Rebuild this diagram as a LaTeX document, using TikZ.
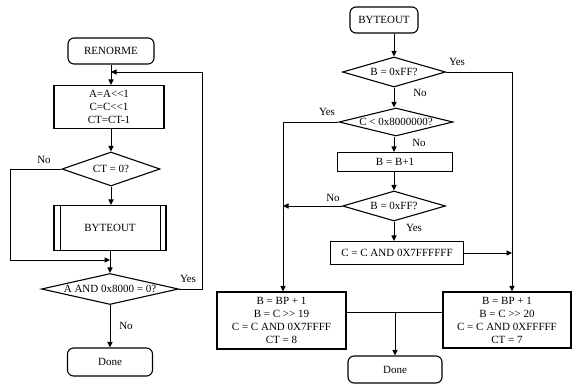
\documentclass[tikz,border=0pt]{standalone}
\usepackage{fontspec}
\setmainfont{Liberation Serif}
\usetikzlibrary{arrows.meta,shapes.geometric}
\newcommand\dtxt[1]{\makebox[0pt]{#1}}
\begin{document}
\begin{tikzpicture}[x=1pt,y=-1pt,
  every node/.style={font=\fontsize{11}{13}\selectfont},
  base/.style={draw, line width=1.1pt, inner sep=0pt, align=center},
  proc/.style={base, rectangle},
  term/.style={base, rectangle, rounded corners=6pt},
  dec/.style={base, diamond},
  arr/.style={line width=1pt, -{Triangle[length=5.5pt,width=5pt]}},
  ln/.style={line width=1pt},
  lbl/.style={inner sep=0pt}]
\useasboundingbox (0,0) rectangle (572,386);
% ---------- left chart ----------
\node[term, minimum width=86pt, minimum height=26pt] (ren) at (111,51) {RENORME};
\node[proc, minimum width=110pt, minimum height=43pt] (b1) at (109,107) {A=A<\kern0pt<1\\C=C<\kern0pt<1\\CT=CT-1};
\node[dec, minimum width=98pt, minimum height=34pt, shape aspect=2.9] (d1) at (111,169) {\dtxt{CT = 0?}};
\node[proc, minimum width=112pt, minimum height=45pt] (bo1) at (110,228) {BYTEOUT};
\draw[line width=1.1pt] ([xshift=7pt]bo1.north west) -- ([xshift=7pt]bo1.south west)
                     ([xshift=-6pt]bo1.north east) -- ([xshift=-6pt]bo1.south east);
\node[dec, minimum width=137pt, minimum height=31pt, shape aspect=4.4] (d2) at (110,289) {\dtxt{A AND 0x8000 = 0?}};
\node[term, minimum width=85pt, minimum height=28pt] (dn1) at (110,362) {Done};
\coordinate (lr) at (202,72);
\coordinate (lj) at (111,72);
\coordinate (lb) at (10,260);
\coordinate (jn) at (110,260);
\draw[arr] (ren.south -| lj) -- (b1.north -| lj);
\draw[arr] (d2.east) -| (lr) -- (lj);
\draw[arr] (b1.south -| d1.north) -- (d1.north);
\draw[arr] (d1.south) -- (bo1.north -| d1.south);
\draw[arr] (d1.west) -| (lb) -- (jn);
\draw[arr] (bo1.south) -- (d2.north);
\draw[arr] (d2.south) -- (dn1.north);
\node[lbl] (l1) at (44,160) {No};
\node[lbl] (l2) at (188,279) {Yes};
\node[lbl] (l3) at (126,326) {No};
% ---------- right chart ----------
\node[term, minimum width=68pt, minimum height=26pt] (bo2) at (384,20) {BYTEOUT};
\node[dec, minimum width=103pt, minimum height=30pt, shape aspect=3.4] (d3) at (394,72) {\dtxt{B = 0xFF?}};
\node[dec, minimum width=114pt, minimum height=28pt, shape aspect=4.1] (d4) at (396,122) {\dtxt{C < 0x8000000?}};
\node[proc, minimum width=115pt, minimum height=19pt] (bp) at (395,162) {B = B+1};
\node[dec, minimum width=103pt, minimum height=30pt, shape aspect=3.4] (d5) at (394,206) {\dtxt{B = 0xFF?}};
\node[proc, minimum width=133pt, minimum height=23pt] (ca) at (397,253) {C = C AND 0X7FFFFFF};
\node[proc, minimum width=129pt, minimum height=57pt] (lbx) at (281.5,320.5) {B = BP + 1\\B = C >\kern0pt> 19\\C = C AND 0X7FFFF\\CT = 8};
\node[proc, minimum width=128pt, minimum height=56pt] (rbx) at (507,320) {B = BP + 1\\B = C >\kern0pt> 20\\C = C AND 0XFFFFF\\CT = 7};
\node[term, minimum width=94pt, minimum height=27pt] (dn2) at (395,369.5) {Done};
\coordinate (rv) at (512,0);
\coordinate (lv) at (283,0);
\coordinate (hl) at (0,312);
\draw[arr] (bo2.south -| d3.north) -- (d3.north);
\draw[arr] (d3.east) -| (rbx.north -| rv);
\draw[arr] (d3.south) -- (d4.north -| d3.south);
\draw[arr] (d4.west) -| (lbx.north -| lv);
\draw[arr] (d4.south -| d3.south) -- (bp.north -| d3.south);
\draw[arr] (bp.south -| d5.north) -- (d5.north);
\draw[arr] (d5.west) -- (d5.west -| lv);
\draw[arr] (d5.south) -- (ca.north -| d5.south);
\draw[arr] (ca.east) -- (ca.east -| rv);
\draw[ln] (lbx.east |- hl) -- (rbx.west |- hl);
\draw[arr] (dn2.north |- hl) -- (dn2.north);
\node[lbl] (l4) at (457,62) {Yes};
\node[lbl] (l5) at (420,93) {No};
\node[lbl] (l6) at (327,112) {Yes};
\node[lbl] (l7) at (419,143) {No};
\node[lbl] (l8) at (333,198) {No};
\node[lbl] (l9) at (414,228) {Yes};
\end{tikzpicture}
\end{document}
